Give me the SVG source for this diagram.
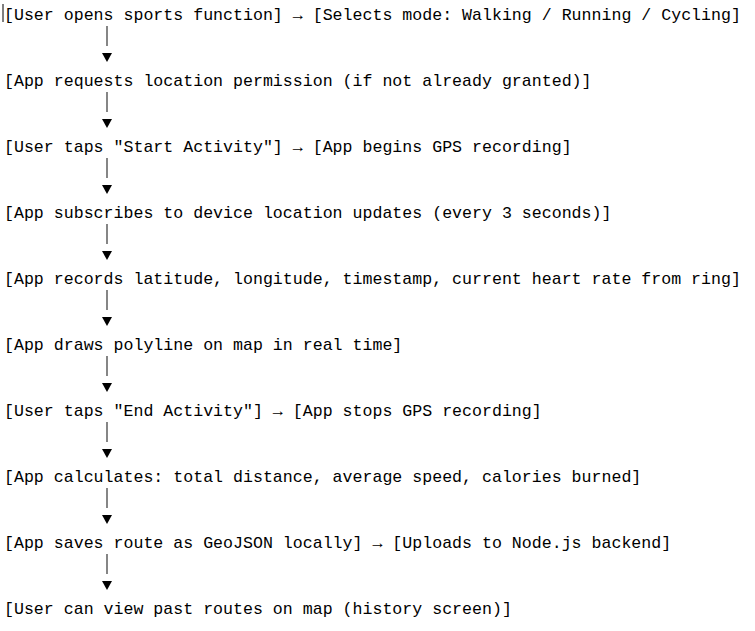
<svg xmlns="http://www.w3.org/2000/svg" width="755" height="631" viewBox="0 0 755 631">
<style>
text{font-family:"Liberation Mono","DejaVu Sans Mono",monospace;font-size:16.6px;fill:#000}
.bar{stroke:#444;stroke-width:1.3}
</style>
<defs>
<g id="arr"><line class="bar" x1="107" y1="26" x2="107" y2="46"/><polygon points="102,53 112,53 107,62" fill="#000"/></g>
</defs>
<rect width="755" height="631" fill="#fff"/>
<line x1="3" y1="4" x2="3" y2="22" stroke="#000" stroke-width="1"/>
<g id="connectors">
<use href="#arr"/>
<use href="#arr" y="66"/>
<use href="#arr" y="132"/>
<use href="#arr" y="198"/>
<use href="#arr" y="264"/>
<use href="#arr" y="330"/>
<use href="#arr" y="396"/>
<use href="#arr" y="462"/>
<use href="#arr" y="528"/>
</g>
<g id="n1"><text x="4" y="20">[User opens sports function] → [Selects mode: Walking / Running / Cycling]</text></g>
<g id="n2"><text x="4" y="86">[App requests location permission (if not already granted)]</text></g>
<g id="n3"><text x="4" y="152">[User taps "Start Activity"] → [App begins GPS recording]</text></g>
<g id="n4"><text x="4" y="218">[App subscribes to device location updates (every 3 seconds)]</text></g>
<g id="n5"><text x="4" y="284">[App records latitude, longitude, timestamp, current heart rate from ring]</text></g>
<g id="n6"><text x="4" y="350">[App draws polyline on map in real time]</text></g>
<g id="n7"><text x="4" y="416">[User taps "End Activity"] → [App stops GPS recording]</text></g>
<g id="n8"><text x="4" y="482">[App calculates: total distance, average speed, calories burned]</text></g>
<g id="n9"><text x="4" y="548">[App saves route as GeoJSON locally] → [Uploads to Node.js backend]</text></g>
<g id="n10"><text x="4" y="614">[User can view past routes on map (history screen)]</text></g>
</svg>
